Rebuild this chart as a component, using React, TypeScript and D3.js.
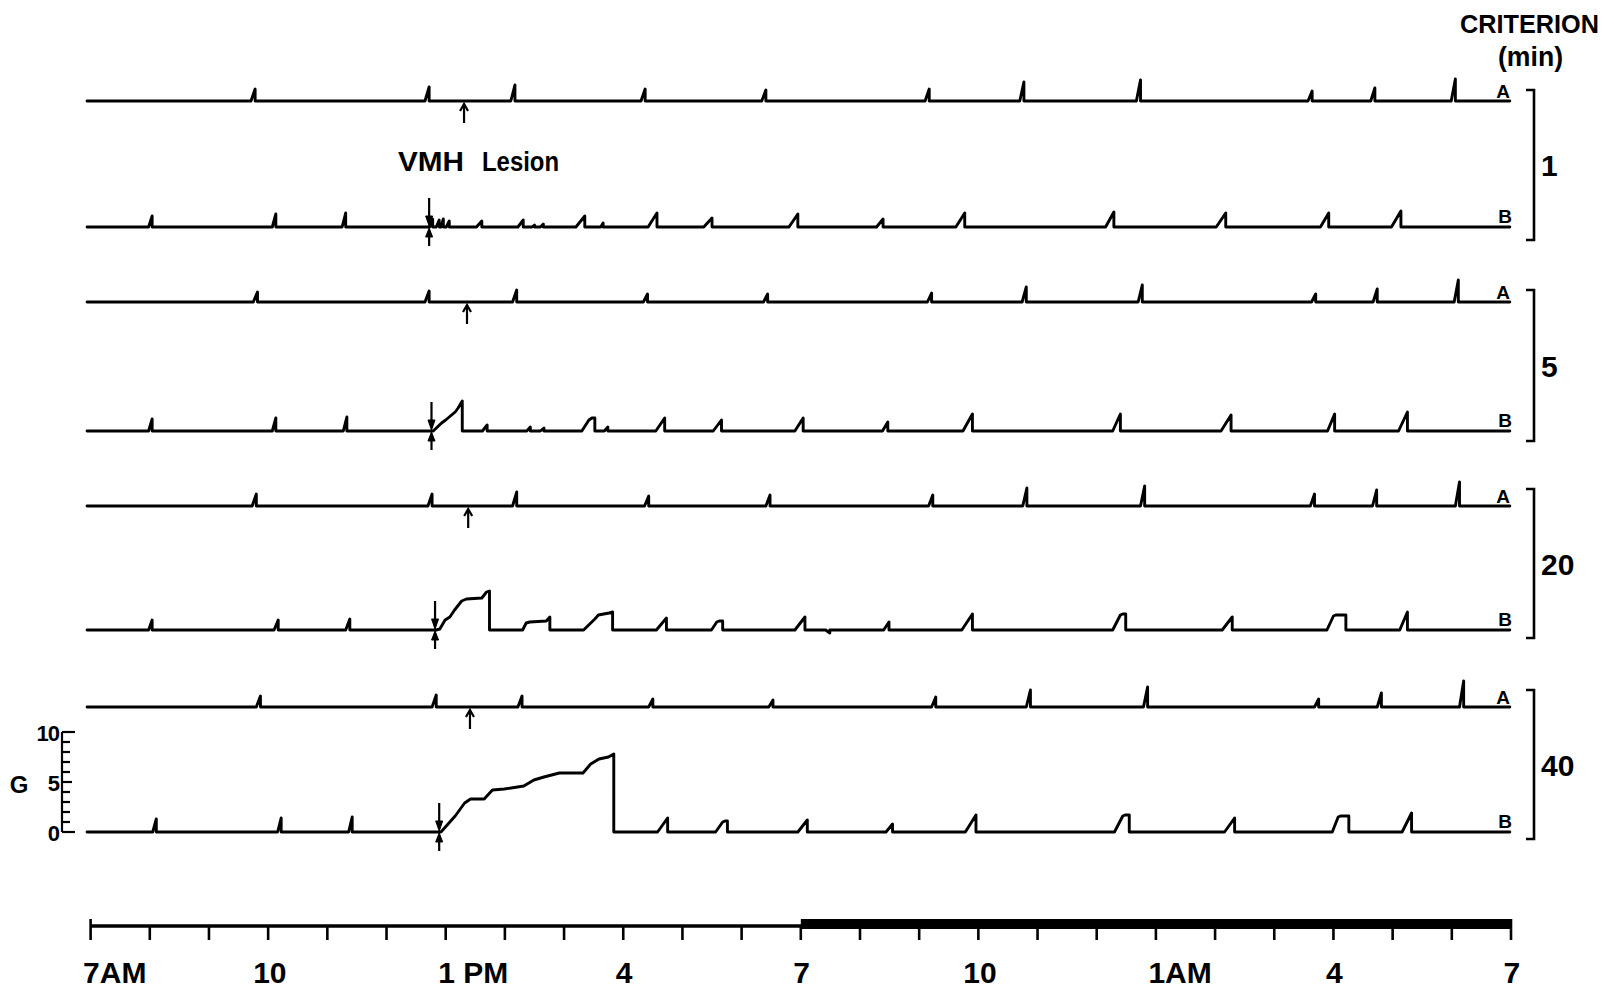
import React from "react";
import * as d3 from "d3";

type Meal = [number, number, number]; // start hour, end hour (drop), grams
type Pt = [number, number]; // hour, grams

// hours after 7 AM
const TICK_HOURS = d3.range(0, 25);
const LABEL_HOURS = [0, 3, 6, 9, 12, 15, 18, 21, 24];
const LABEL_NUMS = ["7", "10", "1", "4", "7", "10", "1", "4", "7"];
const LABEL_SUFFIX = ["AM", "", " PM", "", "", "", "AM", "", ""];
const DARK_START = 12; // 7 PM
const DARK_END = 24;

const CRITERIA = ["1", "5", "20", "40"];
const G_TICKS = d3.range(0, 11);
const G_LABELS = [0, 5, 10];

// Rat A (intact) meals
const A1: Meal[] = [[2.71, 2.78, 1.2], [5.65, 5.72, 1.4], [7.1, 7.17, 1.6], [9.3, 9.37, 1.2], [11.34, 11.41, 1.1], [14.1, 14.17, 1.2], [15.7, 15.77, 1.9], [17.67, 17.74, 2.1], [20.57, 20.64, 1.0], [21.63, 21.7, 1.3], [22.99, 23.06, 2.2]];
const A5: Meal[] = [[2.75, 2.82, 1.0], [5.65, 5.72, 1.1], [7.13, 7.2, 1.2], [9.34, 9.41, 0.8], [11.37, 11.44, 0.8], [14.14, 14.21, 0.9], [15.74, 15.81, 1.5], [17.7, 17.77, 1.7], [20.63, 20.7, 0.8], [21.67, 21.74, 1.3], [23.04, 23.11, 2.2]];
const A20: Meal[] = [[2.73, 2.8, 1.2], [5.7, 5.77, 1.2], [7.13, 7.2, 1.4], [9.36, 9.43, 1.0], [11.41, 11.48, 1.1], [14.16, 14.23, 1.1], [15.75, 15.82, 1.8], [17.74, 17.81, 2.0], [20.61, 20.68, 1.2], [21.66, 21.73, 1.6], [23.06, 23.13, 2.4]];
const A40: Meal[] = [[2.8, 2.87, 1.1], [5.77, 5.84, 1.2], [7.22, 7.29, 1.1], [9.43, 9.5, 0.8], [11.46, 11.53, 0.7], [14.21, 14.28, 1.0], [15.81, 15.88, 1.7], [17.79, 17.86, 2.0], [20.68, 20.75, 0.8], [21.74, 21.81, 1.4], [23.13, 23.2, 2.6]];

// Rat B (VMH lesion) meals
const B1: Meal[] = [[0.98, 1.04, 1.1], [3.07, 3.13, 1.3], [4.25, 4.31, 1.4], [5.73, 5.78, 0.8], [5.84, 5.89, 0.7], [5.92, 5.96, 0.8], [6.01, 6.06, 0.6], [6.52, 6.61, 0.6], [7.22, 7.31, 0.7], [7.46, 7.5, 0.2], [7.6, 7.65, 0.3], [8.2, 8.35, 1.1], [8.62, 8.66, 0.4], [9.42, 9.57, 1.4], [10.36, 10.5, 0.9], [11.8, 11.95, 1.3], [13.28, 13.39, 0.8], [14.62, 14.77, 1.4], [17.15, 17.29, 1.5], [19.02, 19.18, 1.4], [20.78, 20.92, 1.4], [21.98, 22.14, 1.6]];
const B5: Meal[] = [[0.98, 1.04, 1.2], [3.07, 3.13, 1.3], [4.27, 4.33, 1.4], [6.62, 6.7, 0.6], [7.37, 7.43, 0.4], [7.6, 7.66, 0.3], [8.68, 8.74, 0.4], [9.55, 9.7, 1.3], [10.52, 10.66, 1.1], [11.9, 12.04, 1.3], [13.38, 13.47, 0.9], [14.74, 14.9, 1.7], [17.27, 17.4, 1.7], [19.1, 19.27, 1.6], [20.9, 21.02, 1.7], [22.1, 22.25, 1.9]];
const B5_BOUTS: Pt[][] = [
  [[5.79, 0], [5.93, 0.8], [6.0, 1.1], [6.1, 1.6], [6.16, 1.9], [6.21, 2.3], [6.28, 3.0]],
  [[8.3, 0], [8.42, 1.1], [8.47, 1.3], [8.52, 1.3]],
];
const B20: Meal[] = [[0.98, 1.04, 1.0], [3.1, 3.17, 1.0], [4.31, 4.38, 1.1], [9.56, 9.73, 1.2], [11.9, 12.07, 1.3], [12.42, 12.49, -0.3], [13.4, 13.49, 0.8], [14.72, 14.9, 1.6], [19.12, 19.29, 1.3], [22.12, 22.25, 1.8]];
const B20_BOUTS: Pt[][] = [
  [[5.84, 0], [5.9, 0.1], [5.99, 1.0], [6.07, 1.3], [6.15, 2.0], [6.27, 2.9], [6.35, 3.1], [6.61, 3.2], [6.69, 3.8], [6.74, 3.9]],
  [[7.3, 0], [7.36, 0.7], [7.42, 0.8], [7.7, 0.9], [7.76, 1.3]],
  [[8.33, 0], [8.52, 1.1], [8.58, 1.5], [8.76, 1.7], [8.82, 1.8]],
  [[10.49, 0], [10.58, 0.8], [10.62, 0.9], [10.68, 0.9]],
  [[17.27, 0], [17.4, 1.5], [17.44, 1.6], [17.49, 1.6]],
  [[20.89, 0], [21.0, 1.4], [21.04, 1.5], [21.21, 1.5]],
];
const B40: Meal[] = [[1.05, 1.11, 1.3], [3.16, 3.22, 1.4], [4.36, 4.42, 1.5], [9.58, 9.75, 1.4], [11.95, 12.11, 1.2], [13.44, 13.55, 0.8], [14.78, 14.96, 1.7], [19.16, 19.33, 1.4], [22.16, 22.32, 1.9]];
const B40_BOUTS: Pt[][] = [
  [[5.92, 0], [6.16, 1.6], [6.32, 2.9], [6.42, 3.3], [6.65, 3.3], [6.79, 4.2], [6.99, 4.3], [7.32, 4.6], [7.49, 5.2], [7.66, 5.5], [7.92, 5.9], [8.32, 5.9], [8.45, 6.8], [8.59, 7.3], [8.75, 7.5], [8.84, 7.8]],
  [[10.56, 0], [10.68, 1.0], [10.72, 1.1], [10.76, 1.1]],
  [[17.3, 0], [17.44, 1.6], [17.48, 1.7], [17.55, 1.7]],
  [[20.98, 0], [21.08, 1.5], [21.12, 1.6], [21.26, 1.6]],
];

const A_MARKS = [6.31, 6.36, 6.38, 6.41]; // arrow under trace A
const LESION_MARKS = [5.72, 5.76, 5.82, 5.89]; // lesion arrows on trace B

const A_SERIES = [A1, A5, A20, A40];
const B_SERIES = [B1, B5, B20, B40];
const B_BOUTS = [[], B5_BOUTS, B20_BOUTS, B40_BOUTS] as Pt[][][];

// ---- layout ----
const W = 1614;
const H = 1001;
const A_BASE = [101, 302, 506, 707];
const B_BASE = [227, 431, 630, 832];
const BR_TOP = [90, 290, 489, 690];
const BR_BOT = [240, 441, 638, 839];
const T_START = -0.06;
const T_END = 23.98;
const FONT = "'Liberation Sans', Arial, sans-serif";

const x = d3.scaleLinear().domain([0, 24]).range([90.6, 1511]);

function traceData(meals: Meal[], bouts: Pt[][]): Pt[] {
  const eps: Pt[][] = meals
    .map(([s, e, g]) => [[s, 0], [e, g]] as Pt[])
    .concat(bouts)
    .sort((a, b) => a[0][0] - b[0][0]);
  const pts: Pt[] = [[T_START, 0]];
  eps.forEach((ep) => {
    ep.forEach((p) => pts.push(p));
    pts.push([ep[ep.length - 1][0], 0]);
  });
  pts.push([T_END, 0]);
  return pts;
}

function Trace({ meals, bouts, base }: { meals: Meal[]; bouts: Pt[][]; base: number }) {
  const y = d3.scaleLinear().domain([0, 10]).range([base, base - 100]);
  const line = d3
    .line<Pt>()
    .x((d) => x(d[0]))
    .y((d) => y(d[1]));
  return (
    <path
      d={line(traceData(meals, bouts)) || ""}
      fill="none"
      stroke="#000"
      strokeWidth={2.9}
      strokeLinejoin="round"
      strokeLinecap="round"
    />
  );
}

function UpArrow({ cx, tip, len, solid }: { cx: number; tip: number; len: number; solid: boolean }) {
  return (
    <g stroke="#000" strokeWidth={2.2} fill={solid ? "#000" : "none"}>
      <line x1={cx} x2={cx} y1={tip + len} y2={tip + 2} />
      {solid ? (
        <path d={`M${cx},${tip} L${cx - 3.5},${tip + 9} L${cx + 3.5},${tip + 9} Z`} strokeWidth={1} />
      ) : (
        <path d={`M${cx - 4},${tip + 7} L${cx},${tip} L${cx + 4},${tip + 7}`} />
      )}
    </g>
  );
}

function DownArrow({ cx, tip, len }: { cx: number; tip: number; len: number }) {
  return (
    <g stroke="#000" strokeWidth={2.2} fill="#000">
      <line x1={cx} x2={cx} y1={tip - len} y2={tip - 2} />
      <path d={`M${cx},${tip} L${cx - 3.5},${tip - 10} L${cx + 3.5},${tip - 10} Z`} strokeWidth={1} />
    </g>
  );
}

export default function App() {
  const axisY = 926;
  const gScale = d3.scaleLinear().domain([0, 10]).range([B_BASE[3], B_BASE[3] - 100]);
  const gx = 62;
  const labelFs = 30;
  const digitW = labelFs * 0.5;

  return (
    <svg
      width={W}
      height={H}
      viewBox={`0 0 ${W} ${H}`}
      style={{ position: "absolute", left: 0, top: 0, background: "#fff" }}
      fontFamily={FONT}
    >
      <rect x={0} y={0} width={W} height={H} fill="#fff" />

      {/* header */}
      <text x={1460} y={33} fontSize={25} fontWeight="bold" textLength={139} lengthAdjust="spacingAndGlyphs">CRITERION</text>
      <text x={1498} y={66} fontSize={27} fontWeight="bold" textLength={65} lengthAdjust="spacingAndGlyphs">(min)</text>

      <text x={398} y={171} fontSize={28} fontWeight="bold" textLength={66} lengthAdjust="spacingAndGlyphs">VMH</text>
      <text x={482} y={171} fontSize={28} fontWeight="bold" textLength={77} lengthAdjust="spacingAndGlyphs">Lesion</text>

      {CRITERIA.map((c, i) => (
        <g key={c}>
          <Trace meals={A_SERIES[i]} bouts={[]} base={A_BASE[i]} />
          <Trace meals={B_SERIES[i]} bouts={B_BOUTS[i]} base={B_BASE[i]} />
          <UpArrow cx={x(A_MARKS[i])} tip={A_BASE[i] + 3} len={19} solid={false} />
          <DownArrow cx={x(LESION_MARKS[i])} tip={B_BASE[i] - 1} len={28} />
          <UpArrow cx={x(LESION_MARKS[i])} tip={B_BASE[i] + 1} len={18} solid={true} />
          <text x={1503} y={A_BASE[i] - 3} textAnchor="middle" fontSize={19} fontWeight="bold">A</text>
          <text x={1505} y={B_BASE[i] - 4} textAnchor="middle" fontSize={19} fontWeight="bold">B</text>
          <path
            d={`M1526,${BR_TOP[i]} H1534 V${BR_BOT[i]} H1526`}
            fill="none"
            stroke="#000"
            strokeWidth={2.6}
          />
          <text
            x={1541}
            y={(BR_TOP[i] + BR_BOT[i]) / 2 + 11}
            fontSize={30}
            fontWeight="bold"
          >
            {c}
          </text>
        </g>
      ))}

      {/* gram axis */}
      <g stroke="#000" strokeWidth={2.2}>
        <line x1={gx} x2={gx} y1={gScale(10)} y2={gScale(0)} />
        {G_TICKS.map((t) => (
          <line
            key={t}
            x1={gx}
            x2={t === 0 || t === 10 ? gx + 13 : t === 5 ? gx + 10 : gx + 8}
            y1={gScale(t)}
            y2={gScale(t)}
          />
        ))}
      </g>
      {G_LABELS.map((t) => (
        <text
          key={t}
          x={gx - 3}
          y={gScale(t) + 9}
          textAnchor="end"
          fontSize={22}
          fontWeight="bold"
          letterSpacing={-1}
        >
          {t}
        </text>
      ))}
      <text x={19} y={793} textAnchor="middle" fontSize={24} fontWeight="bold">G</text>

      {/* time axis */}
      <line x1={x(0)} x2={x(24)} y1={axisY} y2={axisY} stroke="#000" strokeWidth={3.5} />
      <rect
        x={x(DARK_START)}
        y={axisY - 7}
        width={x(DARK_END) - x(DARK_START)}
        height={10}
        fill="#000"
      />
      {TICK_HOURS.map((h) => (
        <line
          key={h}
          x1={x(h)}
          x2={x(h)}
          y1={h === 0 || h === 24 ? axisY - 7 : axisY}
          y2={axisY + 14}
          stroke="#000"
          strokeWidth={2.6}
        />
      ))}
      {LABEL_HOURS.map((h, i) => (
        <text
          key={h}
          x={x(h) - (LABEL_NUMS[i].length * digitW) / 2}
          y={983}
          fontSize={labelFs}
          fontWeight="bold"
        >
          {LABEL_NUMS[i] + LABEL_SUFFIX[i]}
        </text>
      ))}
    </svg>
  );
}
